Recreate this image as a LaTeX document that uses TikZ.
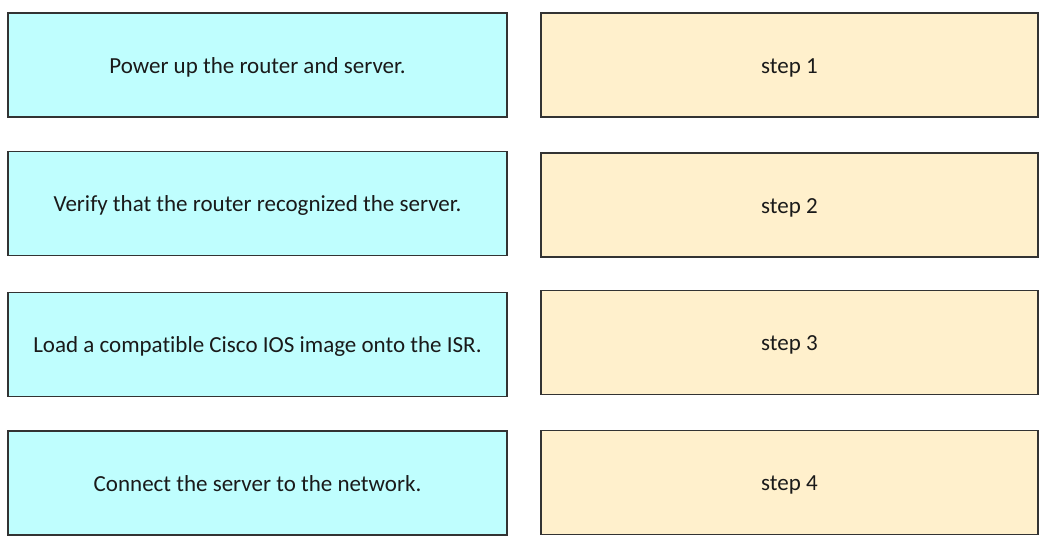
\documentclass[tikz,border=0pt]{standalone}
\usepackage{fontspec}
\setmainfont{Carlito}[Ligatures=NoCommon]
\definecolor{cyanfill}{HTML}{BFFEFE}
\definecolor{peachfill}{HTML}{FFF0CC}
\definecolor{boxline}{HTML}{333333}
\definecolor{txt}{HTML}{1A1A1A}
\tikzset{
  box/.style={draw=boxline, line width=1.3pt, minimum height=104pt, inner sep=0pt, text=txt, font=\fontsize{23}{27}\selectfont},
  leftbox/.style={box, fill=cyanfill, minimum width=499pt},
  rightbox/.style={box, fill=peachfill, minimum width=497pt}
}
\begin{document}
\begin{tikzpicture}[x=1pt,y=-1pt]
\useasboundingbox (0,0) rectangle (1051,542);
\node[leftbox] (l1) at (257.5,65) {};
\node[leftbox] (l2) at (257.5,203.5) {};
\node[leftbox] (l3) at (257.5,344.5) {};
\node[leftbox] (l4) at (257.5,483) {};
\node[rightbox] (r1) at (789.5,65) {};
\node[rightbox] (r2) at (789.5,205) {};
\node[rightbox] (r3) at (789.5,342.5) {};
\node[rightbox] (r4) at (789.5,482.5) {};
\tikzset{lbl/.style={text=txt, font=\fontsize{23}{27}\selectfont, anchor=base, inner sep=0pt}}
\node[lbl] (t1) at ([yshift=-8pt]l1.center) {Power up the router and server.};
\node[lbl] (t2) at ([yshift=-8pt]l2.center) {Verify that the router recognized the server.};
\node[lbl] (t3) at ([yshift=-8pt]l3.center) {Load a compatible Cisco IOS image onto the ISR.};
\node[lbl] (t4) at ([yshift=-8pt]l4.center) {Connect the server to the network.};
\node[lbl] (s1) at ([yshift=-8pt]r1.center) {step 1};
\node[lbl] (s2) at ([yshift=-8pt]r2.center) {step 2};
\node[lbl] (s3) at ([yshift=-8pt]r3.center) {step 3};
\node[lbl] (s4) at ([yshift=-8pt]r4.center) {step 4};
\end{tikzpicture}
\end{document}
